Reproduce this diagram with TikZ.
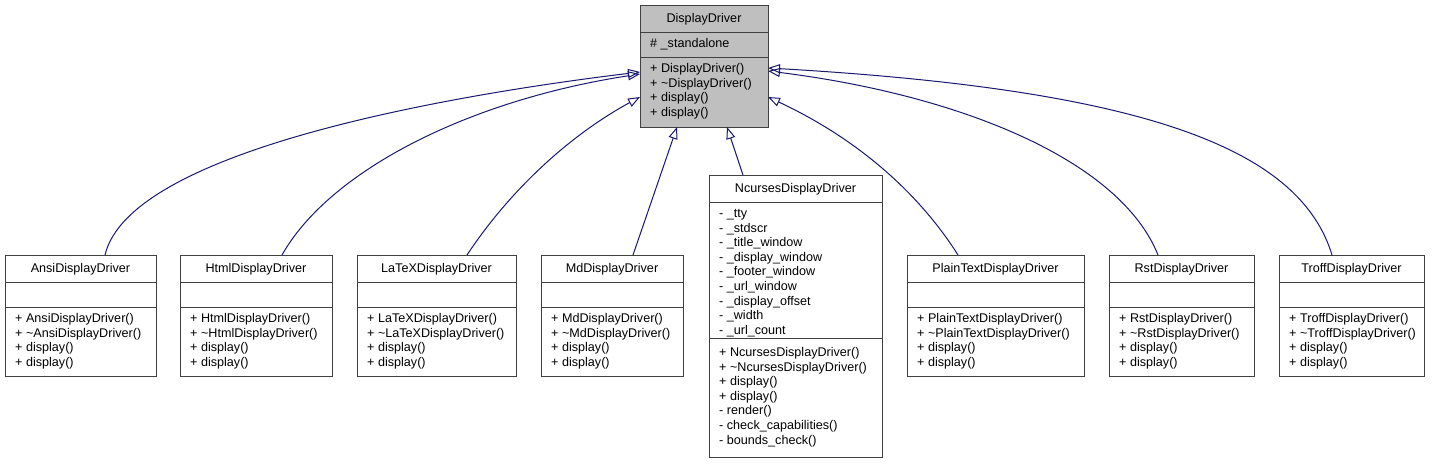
\documentclass[tikz,border=0pt]{standalone}
\usepackage{fontspec}
\setmainfont{Liberation Sans}
\usetikzlibrary{arrows.meta, positioning, calc}
\definecolor{edgeblue}{RGB}{25, 25, 112}
\definecolor{boxgray}{RGB}{191, 191, 191}
\definecolor{linegray}{RGB}{64, 64, 64}

\tikzset{
    classbox/.style={draw=linegray, line width=1pt, inner sep=0pt, outer sep=0pt},
    classrule/.style={draw=linegray, line width=1pt},
    classtitle/.style={anchor=base, inner sep=0pt, font=\fontsize{12.6}{14}\selectfont},
    member/.style={anchor=base west, inner sep=0pt, font=\fontsize{12.6}{14}\selectfont},
    generalization/.style={draw=edgeblue, line width=1pt,
        -{Triangle[open, length=12pt, width=9pt]}}
}

% [fill] name, left, right, top, first rule, second rule, bottom, title
\newcommand{\umlclass}[9][white]{%
    \node[classbox, fill=#1, anchor=north west,
          minimum width={#4pt-#3pt}, minimum height={#8pt-#5pt}] (#2) at (#3,#5) {};
    \draw[classrule] (#3,#6) -- (#4,#6);
    \draw[classrule] (#3,#7) -- (#4,#7);
    \node[classtitle] (#2-title) at ([yshift=-17.5pt]#2.north) {#9};
}

% name, x, first baseline, lines
\newcommand{\members}[4]{%
    \foreach \m [count=\i] in {#4}
        \node[member] (#1-\i) at (#2, #3+\i*14.6-14.6) {\m};
}

\begin{document}
\begin{tikzpicture}[x=1pt, y=-1pt]
    \useasboundingbox[fill=white] (0,0) rectangle (1434,463);

    % base class
    \umlclass[boxgray]{base}{640}{768}{5}{32}{57}{127}{DisplayDriver}
    \members{base-a}{650}{47.5}{\# \_standalone}
    \members{base-m}{650}{72.5}{+ DisplayDriver(), + \textasciitilde{}DisplayDriver(), + display(), + display()}

    % derived classes
    \umlclass{ansi}{5}{156}{255}{282}{307}{376}{AnsiDisplayDriver}
    \members{ansi-m}{15}{322.5}{+ AnsiDisplayDriver(), + \textasciitilde{}AnsiDisplayDriver(), + display(), + display()}

    \umlclass{html}{180}{332}{255}{282}{307}{376}{HtmlDisplayDriver}
    \members{html-m}{190}{322.5}{+ HtmlDisplayDriver(), + \textasciitilde{}HtmlDisplayDriver(), + display(), + display()}

    \umlclass{latex}{357}{516}{255}{282}{307}{376}{LaTeXDisplayDriver}
    \members{latex-m}{367}{322.5}{+ LaTeXDisplayDriver(), + \textasciitilde{}LaTeXDisplayDriver(), + display(), + display()}

    \umlclass{md}{541}{683}{255}{282}{307}{376}{MdDisplayDriver}
    \members{md-m}{551}{322.5}{+ MdDisplayDriver(), + \textasciitilde{}MdDisplayDriver(), + display(), + display()}

    \umlclass{ncurses}{709}{882}{175}{202}{338}{457}{NcursesDisplayDriver}
    \members{ncurses-a}{719}{217.5}{- \_tty, - \_stdscr, - \_title\_window, - \_display\_window, - \_footer\_window, - \_url\_window, - \_display\_offset, - \_width, - \_url\_count}
    \members{ncurses-m}{719}{356.5}{+ NcursesDisplayDriver(), + \textasciitilde{}NcursesDisplayDriver(), + display(), + display(), - render(), - check\_capabilities(), - bounds\_check()}

    \umlclass{plain}{907}{1084}{255}{282}{307}{376}{PlainTextDisplayDriver}
    \members{plain-m}{917}{322.5}{+ PlainTextDisplayDriver(), + \textasciitilde{}PlainTextDisplayDriver(), + display(), + display()}

    \umlclass{rst}{1109}{1254}{255}{282}{307}{376}{RstDisplayDriver}
    \members{rst-m}{1119}{322.5}{+ RstDisplayDriver(), + \textasciitilde{}RstDisplayDriver(), + display(), + display()}

    \umlclass{troff}{1279}{1424}{255}{282}{307}{376}{TroffDisplayDriver}
    \members{troff-m}{1289}{322.5}{+ TroffDisplayDriver(), + \textasciitilde{}TroffDisplayDriver(), + display(), + display()}

    % inheritance
    \draw[generalization] ([xshift=100pt]ansi.north west) .. controls (130,150) and (450,95) .. ([yshift=-67pt]base.north west);
    \draw[generalization] ([xshift=102pt]html.north west) .. controls (330,170) and (470,100) .. ([yshift=-69pt]base.north west);
    \draw[generalization] ([xshift=110pt]latex.north west) .. controls (510,190) and (570,135) .. ([yshift=-92pt]base.north west);
    \draw[generalization] ([xshift=92pt]md.north west) -- ([xshift=37pt]base.south west);
    \draw[generalization] ([xshift=34pt]ncurses.north west) -- ([xshift=-41pt]base.south east);
    \draw[generalization] ([xshift=51pt]plain.north west) .. controls (920,195) and (860,140) .. ([yshift=-92pt]base.north east);
    \draw[generalization] ([xshift=49pt]rst.north west) .. controls (1120,160) and (960,95) .. ([yshift=-66pt]base.north east);
    \draw[generalization] ([xshift=53pt]troff.north west) .. controls (1300,150) and (1150,90) .. ([yshift=-63pt]base.north east);
\end{tikzpicture}
\end{document}
